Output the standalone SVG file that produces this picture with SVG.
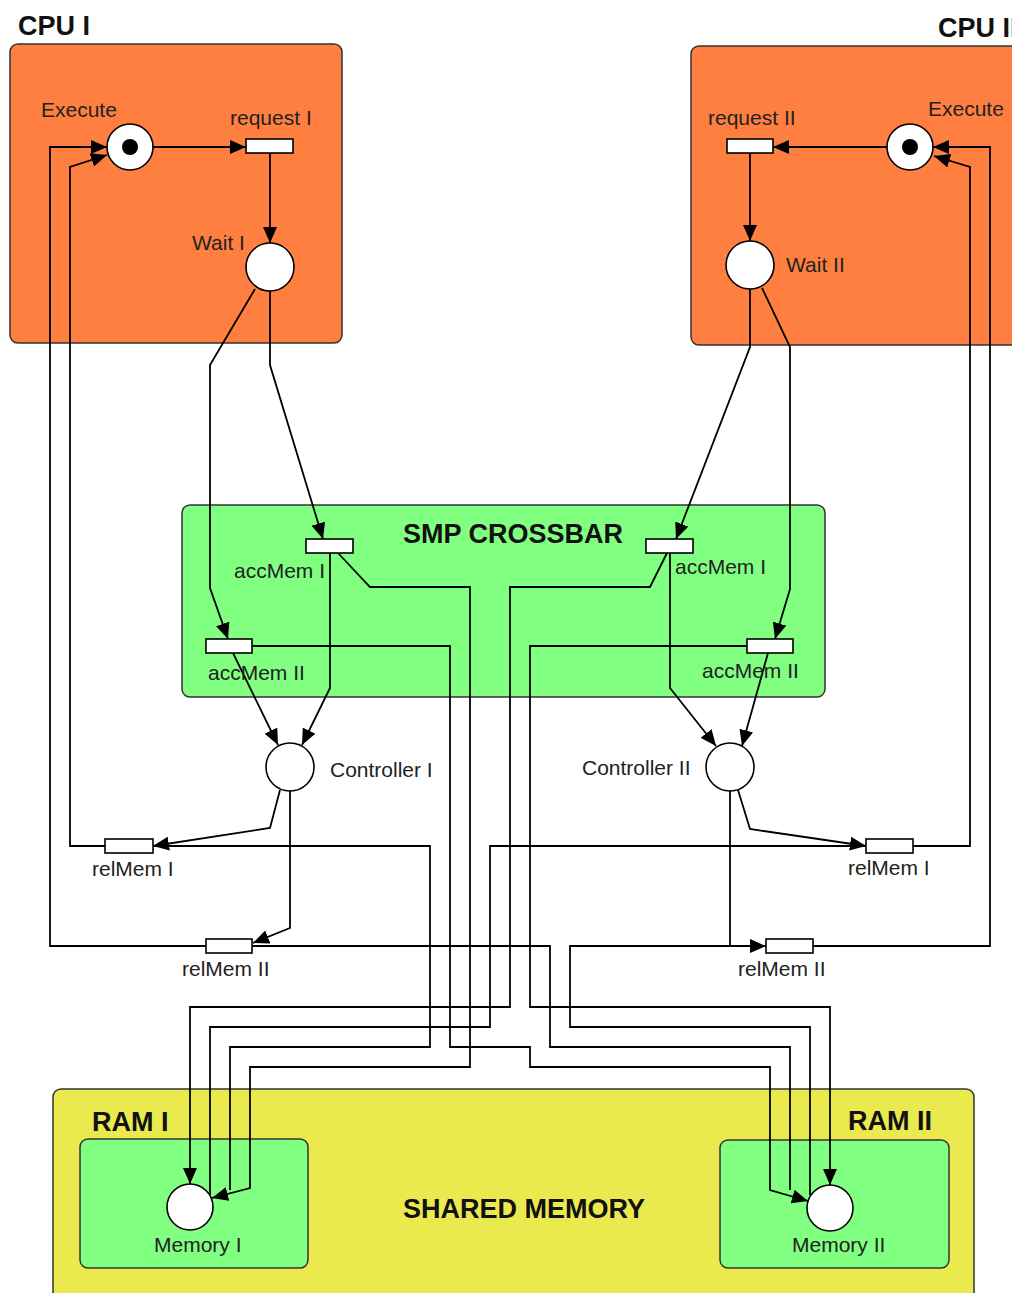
<svg xmlns="http://www.w3.org/2000/svg" width="1012" height="1293" viewBox="0 0 1012 1293">
<defs>
<style>
.box{stroke:#333;stroke-width:1.5}
.orange{fill:#FF7F40}
.green{fill:#80FF80}
.yellow{fill:#EAEA4E}
.place{fill:#fff;stroke:#000;stroke-width:1.6}
.token{fill:#000}
.trans{fill:#fff;stroke:#000;stroke-width:1.6}
.lbl{font-family:"Liberation Sans",Arial,sans-serif;font-size:21px;fill:#222}
.title{font-family:"Liberation Sans",Arial,sans-serif;font-size:27px;font-weight:bold;fill:#111}
.arc{fill:none;stroke:#000;stroke-width:1.8}
.arr{marker-end:url(#ah)}
</style>
<marker id="ah" viewBox="0 0 16 14" refX="16" refY="7" markerWidth="16" markerHeight="14" markerUnits="userSpaceOnUse" orient="auto">
<path d="M0,0 L16,7 L0,14 z" fill="#000"/>
</marker>
</defs>
<rect x="0" y="0" width="1012" height="1293" fill="#fff"/>

<g id="cpu1">
<rect class="box orange" x="10" y="44" width="332" height="299" rx="8"/>
<text class="title" x="18" y="35">CPU I</text>
</g>
<g id="cpu2">
<rect class="box orange" x="691" y="46" width="340" height="299" rx="8"/>
<text class="title" x="938" y="37">CPU II</text>
</g>
<g id="crossbar">
<rect class="box green" x="182" y="505" width="643" height="192" rx="8"/>
<text class="title" x="403" y="543">SMP CROSSBAR</text>
</g>
<g id="shared-memory">
<rect class="box yellow" x="53" y="1089" width="921" height="215" rx="8"/>
<text class="title" x="403" y="1218">SHARED MEMORY</text>
</g>
<g id="ram1">
<rect class="box green" x="80" y="1139" width="228" height="129" rx="8"/>
<text class="title" x="92" y="1131">RAM I</text>
</g>
<g id="ram2">
<rect class="box green" x="720" y="1140" width="229" height="128" rx="8"/>
<text class="title" x="848" y="1130">RAM II</text>
</g>

<g id="connectors">
<path class="arc arr" d="M153,147 L246,147"/>
<path class="arc arr" d="M270,153 L270,243"/>
<path class="arc arr" d="M270,291 L270,365 L323,539"/>
<path class="arc arr" d="M255,289 L210,365 L210,588 L228,639"/>
<path class="arc arr" d="M330,553 L330,688 L302,745"/>
<path class="arc arr" d="M233,653 L278,745"/>
<path class="arc arr" d="M280,790 L270,828 L153,846"/>
<path class="arc arr" d="M290,791 L290,928 L253,943"/>
<path class="arc arr" d="M105,846 L70,846 L70,167 L107,155"/>
<path class="arc arr" d="M206,946 L50,946 L50,147 L107,147"/>
<path class="arc arr" d="M338,553 L370,587 L470,587 L470,1067 L250,1067 L250,1188 L212,1198"/>
<path class="arc arr" d="M252,646 L450,646 L450,1047 L530,1047 L530,1067 L770,1067 L770,1190 L808,1201"/>
<path class="arc" d="M153,846 L430,846 L430,1047 L230,1047 L230,1190"/>
<path class="arc" d="M252,946 L550,946 L550,1047 L790,1047 L790,1190"/>

<path class="arc arr" d="M887,147 L773,147"/>
<path class="arc arr" d="M750,153 L750,241"/>
<path class="arc arr" d="M750,289 L750,347 L676,539"/>
<path class="arc arr" d="M762,288 L790,347 L790,589 L775,639"/>
<path class="arc arr" d="M670,553 L670,688 L716,746"/>
<path class="arc arr" d="M768,653 L742,746"/>
<path class="arc arr" d="M738,790 L750,829 L866,846"/>
<path class="arc arr" d="M730,791 L730,946 L766,946"/>
<path class="arc arr" d="M913,846 L970,846 L970,167 L934,156"/>
<path class="arc arr" d="M813,946 L990,946 L990,147 L933,147"/>
<path class="arc arr" d="M667,553 L650,587 L510,587 L510,1007 L190,1007 L190,1184"/>
<path class="arc arr" d="M747,646 L530,646 L530,1007 L830,1007 L830,1185"/>
<path class="arc" d="M866,846 L490,846 L490,1027 L210,1027 L210,1195"/>
<path class="arc" d="M766,946 L570,946 L570,1027 L810,1027 L810,1195"/>
</g>

<g id="execute1">
<circle class="place" cx="130" cy="147" r="23"/>
<circle class="token" cx="130" cy="147" r="8"/>
<text class="lbl" x="41" y="117">Execute</text>
</g>
<g id="request1">
<rect class="trans" x="246" y="139" width="47" height="14"/>
<text class="lbl" x="230" y="125">request I</text>
</g>
<g id="wait1">
<circle class="place" cx="270" cy="267" r="24"/>
<text class="lbl" x="192" y="250">Wait I</text>
</g>
<g id="execute2">
<circle class="place" cx="910" cy="147" r="23"/>
<circle class="token" cx="910" cy="147" r="8"/>
<text class="lbl" x="928" y="116">Execute</text>
</g>
<g id="request2">
<rect class="trans" x="727" y="139" width="46" height="14"/>
<text class="lbl" x="708" y="125">request II</text>
</g>
<g id="wait2">
<circle class="place" cx="750" cy="265" r="24"/>
<text class="lbl" x="786" y="272">Wait II</text>
</g>
<g id="accMem1-left">
<rect class="trans" x="306" y="539" width="47" height="14"/>
<text class="lbl" x="234" y="578">accMem I</text>
</g>
<g id="accMem2-left">
<rect class="trans" x="206" y="639" width="46" height="14"/>
<text class="lbl" x="208" y="680">accMem II</text>
</g>
<g id="accMem1-right">
<rect class="trans" x="646" y="539" width="47" height="14"/>
<text class="lbl" x="675" y="574">accMem I</text>
</g>
<g id="accMem2-right">
<rect class="trans" x="747" y="639" width="46" height="14"/>
<text class="lbl" x="702" y="678">accMem II</text>
</g>
<g id="controller1">
<circle class="place" cx="290" cy="767" r="24"/>
<text class="lbl" x="330" y="777">Controller I</text>
</g>
<g id="controller2">
<circle class="place" cx="730" cy="767" r="24"/>
<text class="lbl" x="582" y="775">Controller II</text>
</g>
<g id="relMem1-left">
<rect class="trans" x="105" y="839" width="48" height="14"/>
<text class="lbl" x="92" y="876">relMem I</text>
</g>
<g id="relMem2-left">
<rect class="trans" x="206" y="939" width="46" height="14"/>
<text class="lbl" x="182" y="976">relMem II</text>
</g>
<g id="relMem1-right">
<rect class="trans" x="866" y="839" width="47" height="14"/>
<text class="lbl" x="848" y="875">relMem I</text>
</g>
<g id="relMem2-right">
<rect class="trans" x="766" y="939" width="47" height="14"/>
<text class="lbl" x="738" y="976">relMem II</text>
</g>
<g id="memory1">
<circle class="place" cx="190" cy="1207" r="23"/>
<text class="lbl" x="154" y="1252">Memory I</text>
</g>
<g id="memory2">
<circle class="place" cx="830" cy="1208" r="23"/>
<text class="lbl" x="792" y="1252">Memory II</text>
</g>
</svg>
